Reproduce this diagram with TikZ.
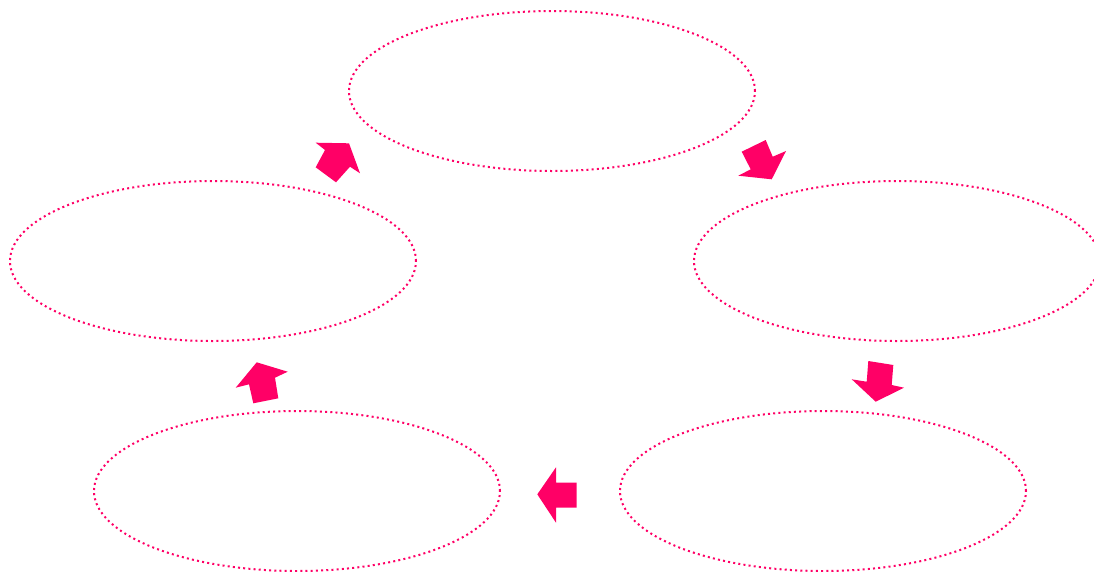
\documentclass[tikz,border=0pt]{standalone}
\usetikzlibrary{shapes.geometric}
\definecolor{hot}{HTML}{FF0066}
\begin{document}
\begin{tikzpicture}[x=1pt,y=-1pt,
  oval/.style={draw=hot, ellipse, line width=2pt, dash pattern=on 2pt off 3.2pt, minimum width=406pt, minimum height=160pt, inner sep=0pt},
  blockarrow/.style={fill=hot, draw=none}]
\useasboundingbox (0,0) rectangle (1094,571);
\node[oval] (top) at (552,91) {};
\node[oval] (left) at (213,261) {};
\node[oval] (right) at (897,261) {};
\node[oval] (bl) at (297,491) {};
\node[oval] (br) at (823,491) {};
% arrows
\fill[blockarrow] (315.7,142.7) -- (349,143.3) -- (360,173.3) -- (350,166.7) -- (336,182.3) -- (315.7,167.3) -- (325,150) -- cycle;
\fill[blockarrow] (741.7,151.7) -- (765.7,140) -- (772.7,156.7) -- (786,151) -- (771.7,179.3) -- (738.3,175.7) -- (750.7,169.3) -- cycle;
\fill[blockarrow] (868.3,361) -- (893.3,365) -- (891.7,385) -- (904,387.7) -- (875.7,401.7) -- (851.7,379.3) -- (866.7,381.7) -- cycle;
\fill[blockarrow] (537.3,494.3) -- (556,467.3) -- (556,482.7) -- (576.7,482.7) -- (576.7,507.7) -- (556,507.7) -- (556,522.7) -- cycle;
\fill[blockarrow] (235.7,387.7) -- (256.7,362.3) -- (287.7,371.7) -- (275,377.7) -- (278.3,398.3) -- (253.3,403.3) -- (249,384.3) -- cycle;
\end{tikzpicture}
\end{document}
